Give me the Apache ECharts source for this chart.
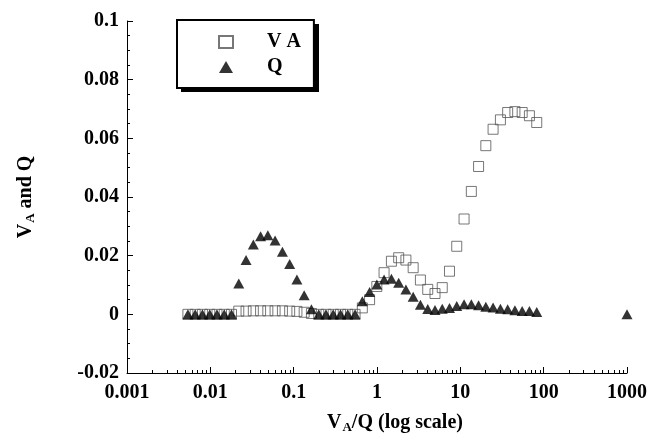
<!DOCTYPE html>
<html>
<head>
<meta charset="utf-8">
<script src="https://cdn.jsdelivr.net/npm/echarts@6/dist/echarts.min.js"></script>
<style>
html,body{margin:0;padding:0;background:#fff;}
#c{width:650px;height:439px;}
</style>
</head>
<body>
<div id="c"></div>
<script>
// VA/Q compartments (x values)
const vaqX = [0.00538, 0.00658, 0.00804, 0.00984, 0.01202, 0.01469, 0.01795, 0.02194, 0.02683, 0.03281,
  0.04009, 0.04898, 0.05984, 0.07328, 0.08954, 0.1094, 0.1337, 0.1633, 0.2000, 0.2443,
  0.2985, 0.3648, 0.4457, 0.5458, 0.6668, 0.8147, 0.9954, 1.216, 1.489, 1.820,
  2.223, 2.716, 3.319, 4.064, 4.966, 6.067, 7.413, 9.057, 11.09, 13.55,
  16.56, 20.23, 24.72, 30.27, 36.98, 45.19, 55.21, 67.45, 82.60];
// Ventilation (VA), hollow squares
const vaValues = [0, 0, 0, 0, 0, 0, 0, 0.0011, 0.0011, 0.0012,
  0.0012, 0.0012, 0.0012, 0.0012, 0.0011, 0.0010, 0.0007, 0.0003, 0, 0,
  0, 0, 0, 0, 0.0022, 0.005, 0.0095, 0.0142, 0.0181, 0.0193,
  0.0185, 0.0159, 0.0117, 0.0085, 0.0071, 0.0091, 0.0147, 0.0232, 0.0325, 0.0419,
  0.0504, 0.0575, 0.0631, 0.0663, 0.0688, 0.0691, 0.0688, 0.0677, 0.0654];
// Perfusion (Q), filled triangles
const qValues = [0, 0, 0, 0, 0, 0, 0, 0.0105, 0.0185, 0.0238,
  0.0266, 0.027, 0.0252, 0.0213, 0.0172, 0.0119, 0.0065, 0.0017, 0, 0,
  0, 0, 0, 0, 0.0045, 0.0076, 0.0102, 0.0119, 0.0121, 0.0108,
  0.0085, 0.006, 0.0033, 0.0018, 0.0015, 0.0019, 0.0022, 0.0028, 0.0034, 0.0034,
  0.0031, 0.0026, 0.0023, 0.0019, 0.0017, 0.0014, 0.0011, 0.0011, 0.0008];
// extra Q point far right
const qExtraX = [1000];
const qExtraValues = [0];

const xTickValues = [0.001, 0.01, 0.1, 1, 10, 100, 1000];
const xTickLabels = ['0.001', '0.01', '0.1', '1', '10', '100', '1000'];
const xMinorTickValues = [];
for (let d = 0; d < 6; d++) { for (let k = 2; k <= 9; k++) xMinorTickValues.push(+(k * xTickValues[d]).toPrecision(3)); }
const yMin = -0.02, yMax = 0.1, yInterval = 0.02;

const FONT = 'Liberation Serif';
const vaData = vaqX.map((x, i) => [x, vaValues[i]]);
const qData = vaqX.map((x, i) => [x, qValues[i]]).concat(qExtraX.map((x, i) => [x, qExtraValues[i]]));

const chart = echarts.init(document.getElementById('c'), null, {renderer: 'canvas'});
const richName = {
  b: {fontFamily: FONT, fontWeight: 'bold', fontSize: 20, color: '#000', lineHeight: 22},
  s: {fontFamily: FONT, fontWeight: 'bold', fontSize: 13, color: '#000', lineHeight: 13, verticalAlign: 'bottom', padding: [13, 0, 0, 1]}
};
chart.setOption({
  backgroundColor: '#fff',
  animation: false,
  grid: {left: 127, right: 23, top: 21, bottom: 66, containLabel: false},
  graphic: [{
    type: 'rect', left: 181, top: 24, z: 0, silent: true,
    shape: {width: 138, height: 68},
    style: {fill: '#000'}
  }],
  legend: {
    orient: 'vertical', left: 177, top: 20, z: 10,
    padding: [12, 13, 11, 41], itemGap: 5, itemWidth: 14, itemHeight: 12,
    backgroundColor: '#fff', borderColor: '#000', borderWidth: 2,
    textStyle: {fontFamily: FONT, fontWeight: 'bold', fontSize: 20, color: '#000', padding: [0, 0, 0, 29]},
    data: ['V A', 'Q']
  },
  xAxis: [{
    type: 'log', logBase: 10, min: 0.001, max: 1000,
    name: '{b|V}{s|A}{b|/Q (log scale)}', nameLocation: 'middle', nameGap: 32,
    nameTextStyle: {rich: richName, padding: [0, 0, 0, 36]},
    axisLine: {show: true, onZero: false, lineStyle: {color: '#000', width: 1}},
    axisTick: {show: true, inside: true, length: 6, lineStyle: {color: '#000'}, customValues: xTickValues},
    axisLabel: {show: true, margin: 10, fontFamily: FONT, fontWeight: 'bold', fontSize: 20, color: '#000',
      customValues: xTickValues,
      formatter: function (v) {
        for (let i = 0; i < xTickValues.length; i++) if (Math.abs(Math.log10(v) - Math.log10(xTickValues[i])) < 1e-6) return xTickLabels[i];
        return '';
      }},
    splitLine: {show: false}, minorTick: {show: false}
  }, {
    type: 'log', logBase: 10, min: 0.001, max: 1000, position: 'bottom', gridIndex: 0,
    axisLine: {show: false, onZero: false},
    axisTick: {show: true, inside: true, length: 3, lineStyle: {color: '#000'}, customValues: xMinorTickValues},
    axisLabel: {show: false},
    splitLine: {show: false}
  }],
  yAxis: {
    type: 'value', min: yMin, max: yMax, interval: yInterval,
    name: '{b|V}{s|A}{b| and Q}', nameLocation: 'middle', nameGap: 90,
    nameTextStyle: {rich: richName},
    axisLine: {show: true, onZero: false, lineStyle: {color: '#000', width: 1}},
    axisTick: {show: true, inside: true, length: 6, lineStyle: {color: '#000'}},
    minorTick: {show: true, splitNumber: 4, length: 3, lineStyle: {color: '#000'}},
    axisLabel: {margin: 8, fontFamily: FONT, fontWeight: 'bold', fontSize: 20, color: '#000'},
    splitLine: {show: false}
  },
  series: [{
    name: 'V A', type: 'scatter', symbol: 'rect', symbolSize: 10, clip: false,
    itemStyle: {color: 'rgba(255,255,255,0)', borderColor: '#555', borderWidth: 1},
    data: vaData, z: 2
  }, {
    name: 'Q', type: 'scatter', symbol: 'triangle', symbolSize: [11, 10], clip: false,
    itemStyle: {color: '#000'},
    data: qData, z: 3
  }]
});
</script>
</body>
</html>
